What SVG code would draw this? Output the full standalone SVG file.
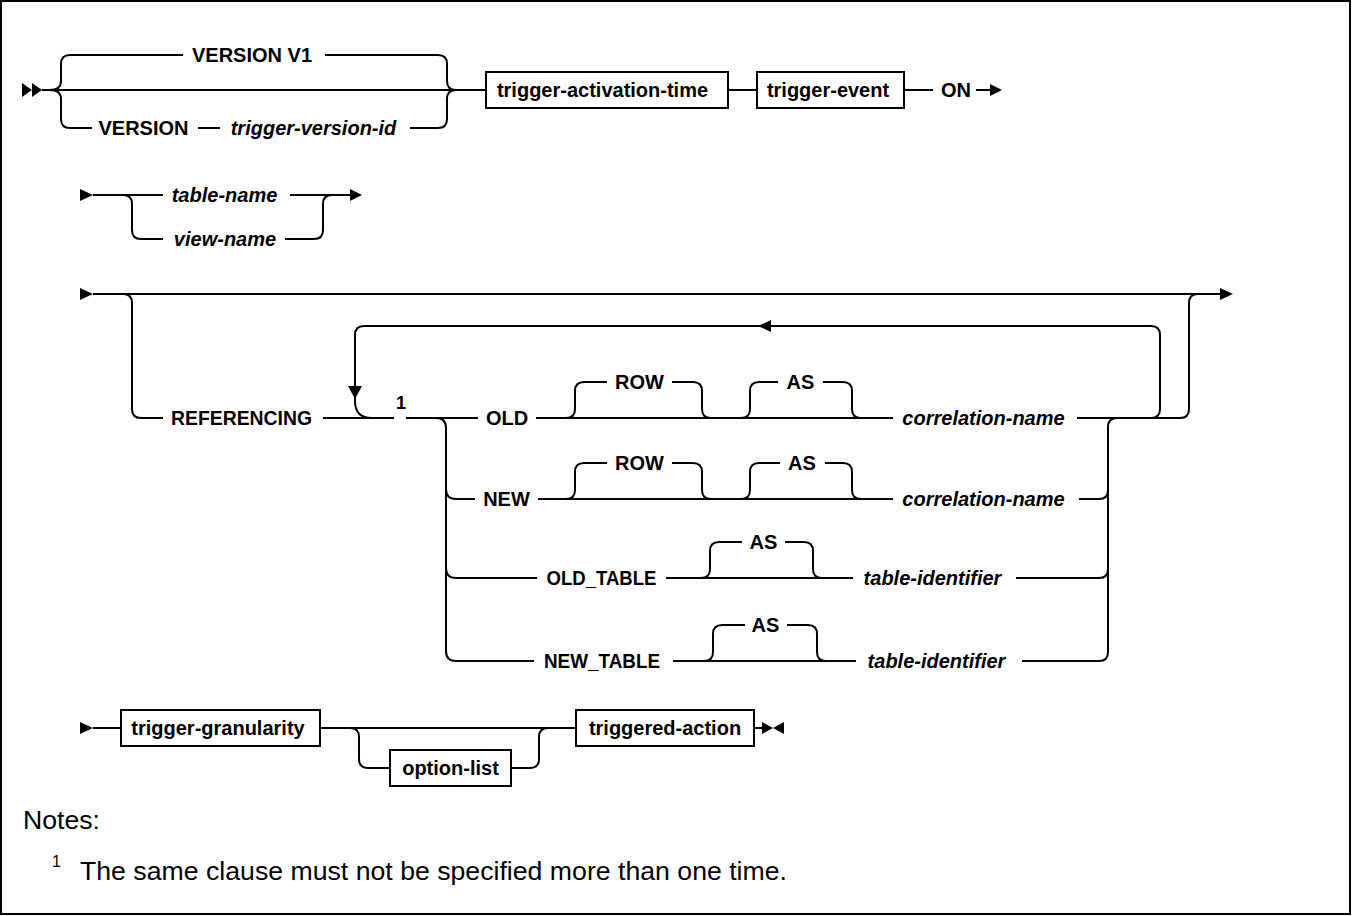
<svg xmlns="http://www.w3.org/2000/svg" width="1352" height="916" viewBox="0 0 1352 916">
<style>
.ln{fill:none;stroke:#000;stroke-width:2}
.ah{fill:#000;stroke:none}
.box{fill:#fff;stroke:#000;stroke-width:2}
.kw{font-family:"Liberation Sans",Arial,sans-serif;font-weight:bold;font-size:20px;text-anchor:middle;fill:#000}
.var{font-family:"Liberation Sans",Arial,sans-serif;font-weight:bold;font-style:italic;font-size:20px;text-anchor:middle;fill:#000}
.note{font-family:"Liberation Sans",Arial,sans-serif;font-size:25px;fill:#000}
.sup{font-family:"Liberation Sans",Arial,sans-serif;font-size:16px;fill:#000}
.ref{font-family:"Liberation Sans",Arial,sans-serif;font-weight:bold;font-size:18px;text-anchor:middle;fill:#000}
</style>
<rect x="1" y="1" width="1349" height="913" fill="#fff" stroke="#000" stroke-width="2"/>
<g id="connectors">
<!-- row 1 -->
<polygon class="ah" points="22,83 32,90 22,97"/>
<polygon class="ah" points="32,83 42,90 32,97"/>
<path class="ln" d="M42,90 H486"/>
<path class="ln" d="M50,90 Q61,90 61,81 V64 Q61,55 70,55 H183"/>
<path class="ln" d="M325,55 H438 Q447,55 447,64 V81 Q447,90 456,90"/>
<path class="ln" d="M50,90 Q61,90 61,99 V119 Q61,128 70,128 H92"/>
<path class="ln" d="M198,128 H220"/>
<path class="ln" d="M410,128 H438 Q447,128 447,119 V99 Q447,90 456,90"/>
<path class="ln" d="M728,90 H757"/>
<path class="ln" d="M904,90 H933"/>
<path class="ln" d="M976,90 H991"/>
<polygon class="ah" points="990,84 1002,90 990,96"/>
<!-- row 2 -->
<polygon class="ah" points="80,189 93,195 80,201"/>
<path class="ln" d="M93,195 H163"/>
<path class="ln" d="M290,195 H351"/>
<polygon class="ah" points="350,189 362,195 350,201"/>
<path class="ln" d="M123,195 Q132,195 132,204 V230 Q132,239 141,239 H163"/>
<path class="ln" d="M285,239 H314 Q323,239 323,230 V204 Q323,195 332,195"/>
<!-- row 3 -->
<polygon class="ah" points="80,288 93,294 80,300"/>
<path class="ln" d="M93,294 H1221"/>
<polygon class="ah" points="1220,288 1233,294 1220,300"/>
<path class="ln" d="M123,294 Q132,294 132,303 V409 Q132,418 141,418 H163"/>
<path class="ln" d="M323,418 H394"/>
<path class="ln" d="M406,418 H478"/>
<path class="ln" d="M1151,418 Q1160,418 1160,409 V335 Q1160,326 1151,326 H364 Q355,326 355,335 V401 Q355,418 372,418"/>
<polygon class="ah" points="758,326 771,320 771,332"/>
<polygon class="ah" points="348,386 362,386 355,399"/>
<path class="ln" d="M1180,418 Q1189,418 1189,409 V303 Q1189,294 1198,294"/>
<path class="ln" d="M436,418 Q446,418 446,428 V651 Q446,661 456,661 H534"/>
<path class="ln" d="M446,489 Q446,499 456,499 H475"/>
<path class="ln" d="M446,568 Q446,578 456,578 H537"/>
<!-- OLD row -->
<path class="ln" d="M536,418 H893"/>
<path class="ln" d="M1077,418 H1180"/>
<path class="ln" d="M566,418 Q575,418 575,409 V391 Q575,382 584,382 H607"/>
<path class="ln" d="M672,382 H693 Q702,382 702,391 V409 Q702,418 711,418"/>
<path class="ln" d="M741,418 Q750,418 750,409 V391 Q750,382 759,382 H778"/>
<path class="ln" d="M823,382 H843 Q852,382 852,391 V409 Q852,418 861,418"/>
<!-- NEW row -->
<path class="ln" d="M538,499 H893"/>
<path class="ln" d="M566,499 Q575,499 575,490 V472 Q575,463 584,463 H607"/>
<path class="ln" d="M672,463 H693 Q702,463 702,472 V490 Q702,499 711,499"/>
<path class="ln" d="M741,499 Q750,499 750,490 V472 Q750,463 759,463 H780"/>
<path class="ln" d="M825,463 H843 Q852,463 852,472 V490 Q852,499 861,499"/>
<path class="ln" d="M1079,499 H1099 Q1108,499 1108,490"/>
<!-- right choice bracket -->
<path class="ln" d="M1022,661 H1099 Q1108,661 1108,652 V427 Q1108,418 1117,418"/>
<!-- OLD_TABLE row -->
<path class="ln" d="M666,578 H853"/>
<path class="ln" d="M701,578 Q710,578 710,569 V551 Q710,542 719,542 H742"/>
<path class="ln" d="M785,542 H804 Q813,542 813,551 V569 Q813,578 822,578"/>
<path class="ln" d="M1016,578 H1099 Q1108,578 1108,569"/>
<!-- NEW_TABLE row -->
<path class="ln" d="M673,661 H856"/>
<path class="ln" d="M704,661 Q713,661 713,652 V634 Q713,625 722,625 H745"/>
<path class="ln" d="M787,625 H808 Q817,625 817,634 V652 Q817,661 826,661"/>
<!-- row 4 -->
<polygon class="ah" points="80,722 93,728 80,734"/>
<path class="ln" d="M93,728 H121"/>
<path class="ln" d="M320,728 H576"/>
<path class="ln" d="M350,728 Q359,728 359,737 V759 Q359,768 368,768 H390"/>
<path class="ln" d="M511,768 H530 Q539,768 539,759 V737 Q539,728 548,728"/>
<path class="ln" d="M754,728 H762"/>
<polygon class="ah" points="762,722 773,728 762,734"/>
<polygon class="ah" points="784,722 773,728 784,734"/>
</g>
<g id="n-version-v1"><text class="kw" x="252" y="62">VERSION V1</text></g>
<g id="n-version"><text class="kw" x="143.5" y="135">VERSION</text></g>
<g id="n-trigger-version-id"><text class="var" x="313.5" y="135">trigger-version-id</text></g>
<g id="n-trigger-activation-time"><rect class="box" x="486" y="72" width="242" height="36"/><text class="kw" x="602.5" y="97">trigger-activation-time</text></g>
<g id="n-trigger-event"><rect class="box" x="757" y="72" width="147" height="36"/><text class="kw" x="828" y="97">trigger-event</text></g>
<g id="n-on"><text class="kw" x="956" y="97">ON</text></g>
<g id="n-table-name"><text class="var" x="224.5" y="202">table-name</text></g>
<g id="n-view-name"><text class="var" x="225" y="246">view-name</text></g>
<g id="n-referencing"><text class="kw" x="241.5" y="425" textLength="141" lengthAdjust="spacingAndGlyphs">REFERENCING</text></g>
<g id="n-note-ref"><text class="ref" x="401" y="409">1</text></g>
<g id="n-old"><text class="kw" x="507" y="425">OLD</text></g>
<g id="n-old-row"><text class="kw" x="639.5" y="389">ROW</text></g>
<g id="n-old-as"><text class="kw" x="800.5" y="389">AS</text></g>
<g id="n-old-corr"><text class="var" x="983.5" y="425">correlation-name</text></g>
<g id="n-new"><text class="kw" x="506.5" y="506">NEW</text></g>
<g id="n-new-row"><text class="kw" x="639.5" y="470">ROW</text></g>
<g id="n-new-as"><text class="kw" x="802" y="470">AS</text></g>
<g id="n-new-corr"><text class="var" x="983.5" y="506">correlation-name</text></g>
<g id="n-old-table"><text class="kw" x="601.5" y="585" textLength="110" lengthAdjust="spacingAndGlyphs">OLD_TABLE</text></g>
<g id="n-old-table-as"><text class="kw" x="763.5" y="549">AS</text></g>
<g id="n-old-table-id"><text class="var" x="932.5" y="585">table-identifier</text></g>
<g id="n-new-table"><text class="kw" x="602" y="668" textLength="116" lengthAdjust="spacingAndGlyphs">NEW_TABLE</text></g>
<g id="n-new-table-as"><text class="kw" x="765.5" y="632">AS</text></g>
<g id="n-new-table-id"><text class="var" x="936.5" y="668">table-identifier</text></g>
<g id="n-trigger-granularity"><rect class="box" x="121" y="710" width="199" height="36"/><text class="kw" x="218" y="735">trigger-granularity</text></g>
<g id="n-option-list"><rect class="box" x="390" y="750" width="121" height="36"/><text class="kw" x="450.5" y="775">option-list</text></g>
<g id="n-triggered-action"><rect class="box" x="576" y="710" width="178" height="36"/><text class="kw" x="665" y="735">triggered-action</text></g>
<g id="notes">
<text class="note" x="23" y="829" textLength="77" lengthAdjust="spacingAndGlyphs">Notes:</text>
<text class="sup" x="52" y="867">1</text>
<text class="note" x="80" y="880" textLength="707" lengthAdjust="spacingAndGlyphs">The same clause must not be specified more than one time.</text>
</g>
</svg>
